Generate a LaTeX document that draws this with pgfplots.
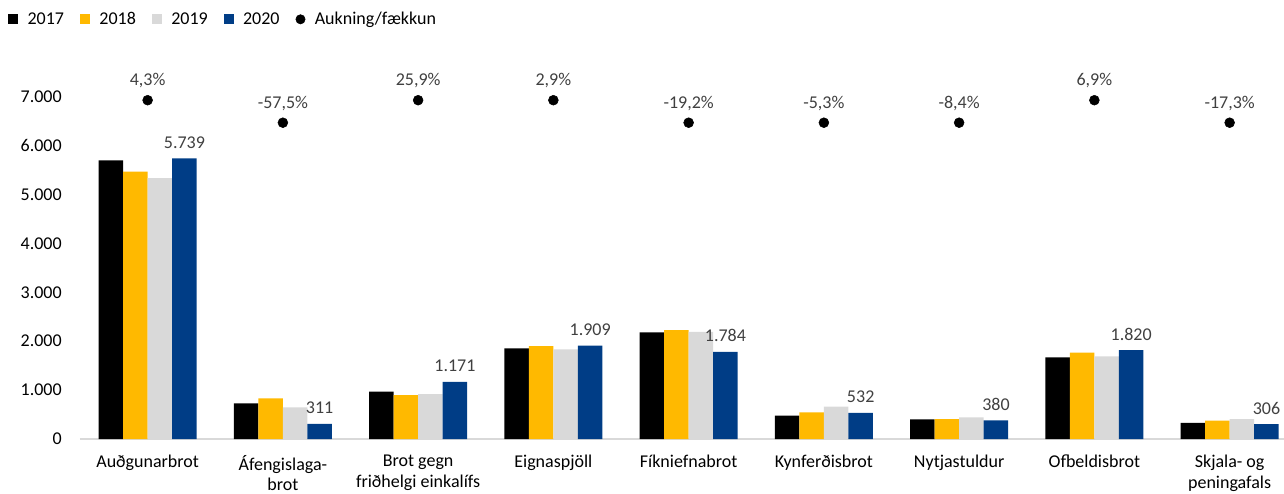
\documentclass[border=0pt]{standalone}
\usepackage{fontspec}
\setmainfont{Carlito}
\usepackage{pgfplots}
\usepackage{pgfplotstable}
\pgfplotsset{compat=1.18}
\definecolor{c17}{HTML}{000000}
\definecolor{c18}{HTML}{FFB900}
\definecolor{c19}{HTML}{D9D9D9}
\definecolor{c20}{HTML}{003D86}
\definecolor{lbl}{HTML}{404040}
\definecolor{basec}{HTML}{D9D9D9}
\newcommand\fs{\fontsize{13.5}{15.5}\selectfont}

\pgfplotstableread{
x y17 y18 y19 y20
0 5700 5470 5335 5739
1 730 832 648 311
2 967 900 920 1171
3 1855 1902 1834 1909
4 2182 2229 2190 1784
5 477 546 661 532
6 400 405 440 380
7 1671 1765 1691 1820
8 330 375 405 306
}\datatable

\begin{document}
\begin{tikzpicture}
\useasboundingbox (-60pt,-40.5pt) rectangle (903pt,329.25pt);
\begin{axis}[
  at={(0,0)}, anchor=south west,
  scale only axis, width=903pt, height=275pt,
  xmin=-0.5, xmax=8.402, ymin=0, ymax=7500,
  xtick={0,1,2,3,4,5,6,7,8},
  xticklabels={Auðgunarbrot,{Áfengislaga-\\brot},{Brot gegn\\friðhelgi einkalífs},Eignaspjöll,Fíkniefnabrot,Kynferðisbrot,Nytjastuldur,Ofbeldisbrot,{Skjala- og\\peningafals}},
  ytick={0,1000,2000,3000,4000,5000,6000,7000},
  scaled y ticks=false,
  /pgf/number format/1000 sep={.},
  /pgf/number format/assume math mode=true,
  axis x line*=bottom, axis y line*=left,
  y axis line style={draw=none},
  x axis line style={draw=basec, line width=1pt},
  major tick length=0pt,
  tick style={draw=none},
  ticklabel style={font=\fs, text=black},
  xticklabel style={align=center, anchor=north, inner sep=0pt, yshift=-12pt},
  yticklabel style={anchor=east, inner sep=0pt, xshift=-13.5pt},
  clip=false,
  legend columns=-1,
  legend cell align=left,
  legend style={at={(-0.0598,1.1724)}, anchor=north west, draw=none, fill=none,
    font=\fs, inner sep=0pt,
    /tikz/every odd column/.append style={column sep=5pt},
    /tikz/every even column/.append style={column sep=10pt}},
]
\addplot[ybar, bar width=18.4pt, bar shift=-27.6pt, fill=c17, draw=none,
  legend image code/.code={\fill[c17] (0pt,-3.75pt) rectangle (7.5pt,3.75pt);}]
  table[x=x,y=y17]{\datatable};
\addlegendentry{2017}
\addplot[ybar, bar width=18.4pt, bar shift=-9.2pt, fill=c18, draw=none,
  legend image code/.code={\fill[c18] (0pt,-3.75pt) rectangle (7.5pt,3.75pt);}]
  table[x=x,y=y18]{\datatable};
\addlegendentry{2018}
\addplot[ybar, bar width=18.4pt, bar shift=9.2pt, fill=c19, draw=none,
  legend image code/.code={\fill[c19] (0pt,-3.75pt) rectangle (7.5pt,3.75pt);}]
  table[x=x,y=y19]{\datatable};
\addlegendentry{2019}
\addplot[ybar, bar width=18.4pt, bar shift=27.6pt, fill=c20, draw=none,
  nodes near coords,
  every node near coord/.append style={font=\fs, text=lbl, anchor=base, inner sep=0pt, xshift=27.6pt, yshift=7.5pt},
  legend image code/.code={\fill[c20] (0pt,-3.75pt) rectangle (7.5pt,3.75pt);}]
  table[x=x,y=y20]{\datatable};
\addlegendentry{2020}
\addplot[only marks, mark=*, mark size=3.7pt, black,
  point meta=explicit symbolic, nodes near coords,
  every node near coord/.append style={font=\fs, text=lbl, anchor=base, inner sep=0pt, yshift=11pt},
  legend image code/.code={\fill[black] (3.5pt,0pt) circle (3.5pt);}]
  coordinates {(0,6930)[4,3\%] (1,6470)[-57,5\%] (2,6930)[25,9\%] (3,6930)[2,9\%] (4,6470)[-19,2\%] (5,6470)[-5,3\%] (6,6470)[-8,4\%] (7,6930)[6,9\%] (8,6470)[-17,3\%]};
\addlegendentry{Aukning/fækkun}
\end{axis}
\end{tikzpicture}
\end{document}
